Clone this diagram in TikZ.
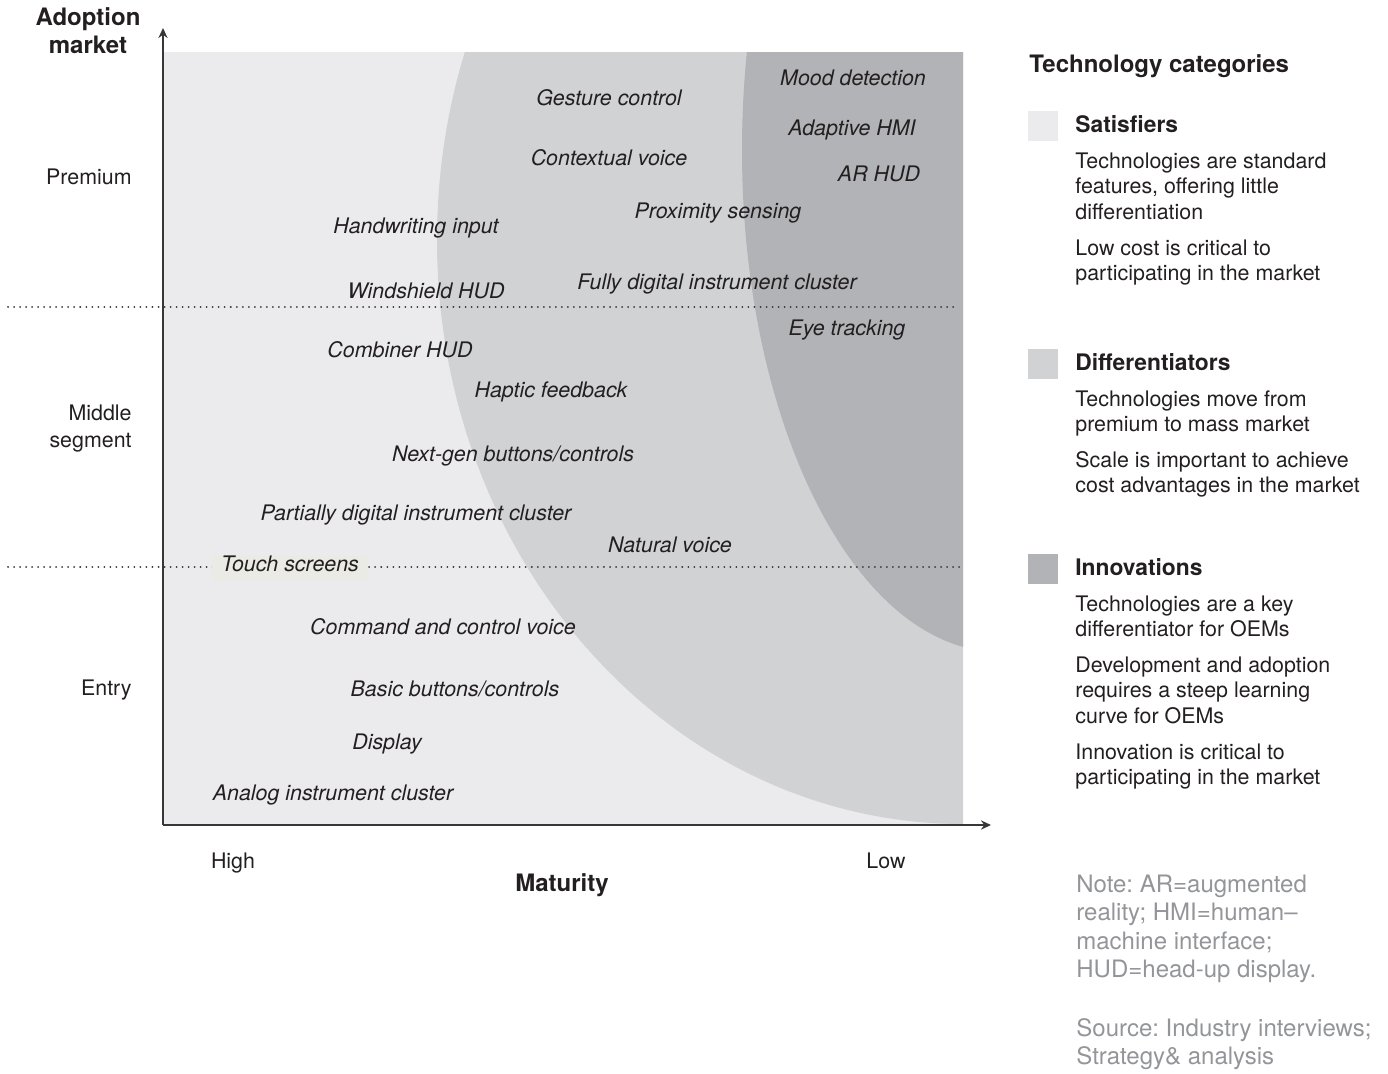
\documentclass[tikz,border=0pt]{standalone}
\usepackage{fontspec}
\setmainfont{TeX Gyre Heros}
\usetikzlibrary{arrows.meta}
\definecolor{lightg}{RGB}{235,235,237}
\definecolor{midg}{RGB}{209,210,212}
\definecolor{darkg}{RGB}{178,179,182}
\definecolor{txt}{RGB}{35,31,32}
\definecolor{notegray}{RGB}{147,149,152}
\definecolor{axisc}{RGB}{55,55,55}
\definecolor{tsbg}{RGB}{235,235,229}
\frenchspacing
\begin{document}
\begin{tikzpicture}[x=0.5pt,y=-0.5pt,
  lab/.style={font=\fontsize{10.7}{12.8}\selectfont\itshape, text=txt, anchor=base, inner sep=0pt},
  axlab/.style={font=\fontsize{10.7}{13.5}\selectfont, text=txt, anchor=base east, inner sep=0pt, align=right},
  axhead/.style={font=\fontsize{12}{14}\selectfont\bfseries, text=txt, anchor=base, inner sep=0pt, align=center},
  leghead/.style={font=\fontsize{11.4}{13.5}\selectfont\bfseries, text=txt, anchor=base west, inner sep=0pt},
  legbody/.style={font=\fontsize{10.7}{12.75}\selectfont, text=txt, anchor=base west, inner sep=0pt, align=left},
  notetext/.style={font=\fontsize{12}{14.25}\selectfont, text=notegray, anchor=base west, inner sep=0pt, align=left},
  swatch/.style={minimum width=15pt, minimum height=15pt, inner sep=0pt, anchor=north west},
  dotline/.style={draw=axisc, line width=1pt, line cap=round, dash pattern=on 0.01pt off 3pt},
  axisline/.style={draw=axisc, line width=0.8pt, -{Stealth[length=5pt,width=4.6pt]}}
]
\useasboundingbox (0,0) rectangle (1388,1073);
% plot regions
\fill[lightg] (164,52) rectangle (963,824);
\begin{scope}
  \clip (164,52) rectangle (963,824);
  \fill[midg] (963,240) ellipse [x radius=526, y radius=584];
  \fill[darkg] (1000,150) ellipse [x radius=258, y radius=502];
\end{scope}
% dotted separators
\coordinate (d1a) at (8,307); \coordinate (d1b) at (957,307);
\coordinate (d2a) at (8,567); \coordinate (d2b) at (963,567);
\draw[dotline] (d1a) -- (d1b);
\draw[dotline] (d2a) -- (d2b);
% axes
\coordinate (O) at (163,825);
\coordinate (ytip) at (163,28);
\coordinate (xtip) at (991,825);
\draw[axisline] (O) -- (ytip);
\draw[axisline] (O) -- (xtip);
% touch screens background
\fill[tsbg] (212,556) rectangle (368,581);
% technology labels
\node[lab] (mood) at (853,85) {Mood detection};
\node[lab] (gest) at (609,105) {Gesture control};
\node[lab] (ahmi) at (852,135) {Adaptive HMI};
\node[lab] (ctxv) at (609,165) {Contextual voice};
\node[lab] (arhud) at (879,181) {AR HUD};
\node[lab] (prox) at (718,218) {Proximity sensing};
\node[lab] (hand) at (416,233) {Handwriting input};
\node[lab] (fdic) at (717,289) {Fully digital instrument cluster};
\node[lab] (wind) at (426,298) {Windshield HUD};
\node[lab] (eye) at (847,335) {Eye tracking};
\node[lab] (comb) at (400,357) {Combiner HUD};
\node[lab] (hapt) at (551,397) {Haptic feedback};
\node[lab] (ngb) at (513,461) {Next-gen buttons/controls};
\node[lab] (pdic) at (416,520) {Partially digital instrument cluster};
\node[lab] (natv) at (670,552) {Natural voice};
\node[lab] (touch) at (290,571) {Touch screens};
\node[lab] (ccv) at (443,634) {Command and control voice};
\node[lab] (bbc) at (455,696) {Basic buttons/controls};
\node[lab] (disp) at (387,749) {Display};
\node[lab] (anic) at (333,800) {Analog instrument cluster};
% axis labels (multi-line nodes: base = last line)
\node[axhead] (adopt) at (88,53) {Adoption\\market};
\node[axlab] (prem) at (132,184) {Premium};
\node[axlab] (mid) at (132,447) {Middle\\segment};
\node[axlab] (entry) at (132,695) {Entry};
\node[axlab, anchor=base] (high) at (233,868) {High};
\node[axlab, anchor=base] (low) at (886,868) {Low};
\node[axhead] (mat) at (562,891) {Maturity};
% legend
\node[leghead, font=\fontsize{12}{14}\selectfont\bfseries] (legt) at (1029,72) {Technology categories};
\node[swatch, fill=lightg] (sw1) at (1028,111) {};
\node[swatch, fill=midg] (sw2) at (1028,349) {};
\node[swatch, fill=darkg] (sw3) at (1028,554) {};
\node[leghead] (sat) at (1075,132) {Satisfiers};
\node[legbody] (sat1) at (1075,219) {Technologies are standard\\features, offering little\\differentiation};
\node[legbody] (sat2) at (1075,280.5) {Low cost is critical to\\participating in the market};
\node[leghead] (dif) at (1075,370) {Differentiators};
\node[legbody] (dif1) at (1075,431.5) {Technologies move from\\premium to mass market};
\node[legbody] (dif2) at (1075,492.5) {Scale is important to achieve\\cost advantages in the market};
\node[leghead] (inn) at (1075,575) {Innovations};
\node[legbody] (inn1) at (1075,636.5) {Technologies are a key\\differentiator for OEMs};
\node[legbody] (inn2) at (1075,723) {Development and adoption\\requires a steep learning\\curve for OEMs};
\node[legbody] (inn3) at (1075,784.5) {Innovation is critical to\\participating in the market};
% note and source
\node[notetext] (note) at (1076,977.5) {Note: AR=augmented\\reality; HMI=human--\\machine interface;\\HUD=head-up display.};
\node[notetext] (src) at (1076,1064.5) {Source: Industry interviews;\\Strategy\& analysis};
\end{tikzpicture}
\end{document}
